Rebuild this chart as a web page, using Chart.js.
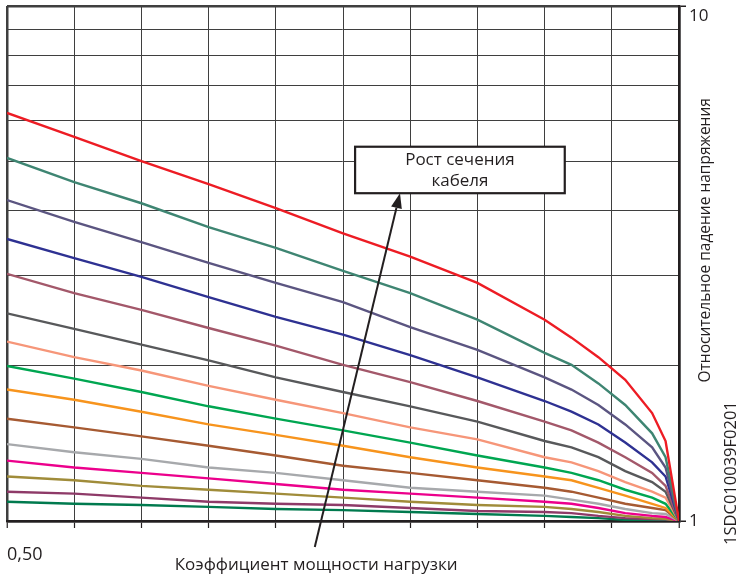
<!DOCTYPE html>
<html>
<head>
<meta charset="utf-8">
<script src="https://cdn.jsdelivr.net/npm/chart.js@4/dist/chart.umd.min.js"></script>
<style>
html,body{margin:0;padding:0;background:#fff;}
#wrap{width:737px;height:574px;position:relative;}
</style>
</head>
<body>
<div id="wrap"><canvas id="c" width="737" height="574"></canvas></div>
<script>
// Power factor (x) values
const powerFactor = [0.50, 0.55, 0.60, 0.65, 0.70, 0.75, 0.80, 0.85, 0.90, 0.92, 0.94, 0.96, 0.98, 0.99, 1.00];

// Relative voltage drop curves (log scale 1..10)
const sRed     = [6.20, 5.57, 5.00, 4.51, 4.05, 3.62, 3.26, 2.90, 2.46, 2.27, 2.08, 1.88, 1.62, 1.43, 1];
const sTeal    = [5.07, 4.55, 4.14, 3.72, 3.39, 3.06, 2.77, 2.46, 2.12, 2.01, 1.85, 1.68, 1.48, 1.33, 1];
const sPurple  = [4.20, 3.81, 3.48, 3.17, 2.90, 2.66, 2.38, 2.15, 1.90, 1.80, 1.68, 1.54, 1.39, 1.27, 1];
const sNavy    = [3.53, 3.24, 2.98, 2.72, 2.49, 2.30, 2.10, 1.90, 1.71, 1.63, 1.54, 1.42, 1.30, 1.22, 1];
const sMauve   = [3.02, 2.77, 2.57, 2.37, 2.19, 2.01, 1.86, 1.71, 1.56, 1.50, 1.42, 1.33, 1.24, 1.17, 1];
const sDkGray  = [2.53, 2.36, 2.20, 2.05, 1.90, 1.78, 1.67, 1.56, 1.43, 1.39, 1.33, 1.25, 1.19, 1.14, 1];
const sSalmon  = [2.23, 2.08, 1.96, 1.83, 1.72, 1.62, 1.52, 1.44, 1.33, 1.30, 1.25, 1.19, 1.14, 1.11, 1];
const sGreen   = [2.00, 1.89, 1.78, 1.67, 1.58, 1.50, 1.42, 1.34, 1.27, 1.24, 1.20, 1.15, 1.11, 1.08, 1];
const sOrange  = [1.80, 1.72, 1.63, 1.54, 1.47, 1.40, 1.33, 1.27, 1.22, 1.20, 1.16, 1.12, 1.08, 1.06, 1];
const sBrown   = [1.58, 1.52, 1.46, 1.40, 1.34, 1.28, 1.24, 1.20, 1.16, 1.14, 1.11, 1.08, 1.06, 1.05, 1];
const sLtGray  = [1.41, 1.36, 1.32, 1.27, 1.24, 1.20, 1.16, 1.14, 1.12, 1.10, 1.08, 1.055, 1.036, 1.032, 1];
const sMagenta = [1.31, 1.27, 1.24, 1.21, 1.18, 1.15, 1.13, 1.11, 1.09, 1.08, 1.06, 1.036, 1.023, 1.018, 1];
const sOlive   = [1.22, 1.20, 1.17, 1.15, 1.13, 1.11, 1.09, 1.074, 1.065, 1.055, 1.041, 1.023, 1.013, 1.01, 1];
const sPlum    = [1.14, 1.13, 1.11, 1.09, 1.08, 1.074, 1.06, 1.046, 1.041, 1.036, 1.023, 1.013, 1.009, 1.008, 1];
const sDkGreen = [1.09, 1.08, 1.074, 1.065, 1.055, 1.05, 1.041, 1.032, 1.023, 1.018, 1.013, 1.005, 1.004, 1.004, 1];

const seriesList = [sRed, sTeal, sPurple, sNavy, sMauve, sDkGray, sSalmon, sGreen, sOrange, sBrown, sLtGray, sMagenta, sOlive, sPlum, sDkGreen];
const seriesColors = ['#ED1C24', '#3E8572', '#5B5581', '#2E3192', '#A3586A', '#58595B', '#F69679', '#00A651', '#F7941D', '#A65A32', '#A7A9AC', '#EC008C', '#A08C3A', '#8E3A68', '#007A4E'];

// Text
const xTitle = 'Коэффициент мощности нагрузки';
const yTitle = 'Относительное падение напряжения';
const codeText = '1SDC010039F0201';
const boxLines = ['Рост сечения', 'кабеля'];
// Annotation anchors in data units
const boxCorners = [[0.759, 5.33], [0.915, 4.33]];
const arrowFrom = [0.729, 0.89];
const arrowTo = [0.7924, 4.33];

const FONT = '"Open Sans", "Noto Sans", sans-serif';
const DARK = '#231F20';

const datasets = seriesList.map((s, i) => ({
  data: powerFactor.map((x, j) => ({x: x, y: s[j]})),
  borderColor: seriesColors[i],
  borderWidth: 2.4,
  pointRadius: 0,
  tension: 0,
  fill: false
}));

const extras = {
  id: 'extras',
  afterDraw(chart) {
    const ctx = chart.ctx;
    const xs = chart.scales.x, ys = chart.scales.y;
    const ca = chart.chartArea;
    ctx.save();
    // box
    const bx1 = xs.getPixelForValue(boxCorners[0][0]);
    const by1 = ys.getPixelForValue(boxCorners[0][1]);
    const bx2 = xs.getPixelForValue(boxCorners[1][0]);
    const by2 = ys.getPixelForValue(boxCorners[1][1]);
    ctx.fillStyle = '#fff';
    ctx.fillRect(bx1, by1, bx2 - bx1, by2 - by1);
    ctx.strokeStyle = DARK;
    ctx.lineWidth = 2.2;
    ctx.strokeRect(bx1, by1, bx2 - bx1, by2 - by1);
    ctx.fillStyle = DARK;
    ctx.font = '17px ' + FONT;
    ctx.textAlign = 'center';
    ctx.textBaseline = 'middle';
    const bcx = (bx1 + bx2) / 2;
    const bh = by2 - by1;
    ctx.fillText(boxLines[0], bcx, by1 + bh * 0.29);
    ctx.fillText(boxLines[1], bcx, by1 + bh * 0.74);
    // arrow
    const ax1 = xs.getPixelForValue(arrowFrom[0]);
    const ay1 = ys.getPixelForValue(arrowFrom[1]);
    const ax2 = xs.getPixelForValue(arrowTo[0]);
    const ay2 = ys.getPixelForValue(arrowTo[1]);
    const ang = Math.atan2(ay2 - ay1, ax2 - ax1);
    const hl = 15, hw = 5.5;
    const bxp = ax2 - hl * Math.cos(ang), byp = ay2 - hl * Math.sin(ang);
    ctx.strokeStyle = DARK;
    ctx.lineWidth = 2;
    ctx.beginPath();
    ctx.moveTo(ax1, ay1);
    ctx.lineTo(bxp, byp);
    ctx.stroke();
    ctx.beginPath();
    ctx.moveTo(ax2, ay2);
    ctx.lineTo(bxp + hw * Math.sin(ang), byp - hw * Math.cos(ang));
    ctx.lineTo(bxp - hw * Math.sin(ang), byp + hw * Math.cos(ang));
    ctx.closePath();
    ctx.fillStyle = DARK;
    ctx.fill();
    // x title
    ctx.fillStyle = DARK;
    ctx.font = '17px ' + FONT;
    ctx.textAlign = 'center';
    ctx.textBaseline = 'middle';
    ctx.fillText(xTitle, ca.left + ca.width * 0.46, ca.bottom + 44);
    // y title (rotated)
    ctx.save();
    ctx.translate(ca.right + 27, ca.top + ca.height * 0.455);
    ctx.rotate(-Math.PI / 2);
    ctx.font = '15.5px ' + FONT;
    ctx.fillText(yTitle, 0, 0);
    ctx.restore();
    // code text
    ctx.save();
    ctx.translate(ca.right + 52, ca.top + ca.height * 0.907);
    ctx.rotate(-Math.PI / 2);
    ctx.font = '16.5px ' + FONT;
    ctx.fillText(codeText, 0, 0);
    ctx.restore();
    ctx.restore();
  }
};

new Chart(document.getElementById('c'), {
  type: 'line',
  data: {datasets: datasets},
  options: {
    responsive: false,
    animation: false,
    events: [],
    layout: {padding: {left: 7, top: 6, right: 0, bottom: 0}},
    plugins: {legend: {display: false}, tooltip: {enabled: false}, title: {display: false}},
    scales: {
      x: {
        type: 'linear',
        position: 'bottom',
        min: 0.5,
        max: 1.0,
        afterBuildTicks(scale) {
          scale.ticks = powerFactor.filter((v, i) => i <= 8).concat([0.95, 1.0]).map(v => ({value: v}));
        },
        afterFit(scale) { scale.height = 53; scale.paddingLeft = 0; scale.paddingRight = 0; },
        border: {display: true, color: DARK, width: 2.5},
        grid: {
          color: '#3f3f3f',
          lineWidth: (c) => (c.tick && (c.tick.value === 0.5 || c.tick.value === 1)) ? 2.5 : 1,
          drawTicks: true,
          tickLength: 7,
          tickColor: DARK,
          tickWidth: 1.2
        },
        ticks: {
          autoSkip: false,
          maxRotation: 0,
          align: 'start',
          padding: 16,
          color: DARK,
          font: {family: FONT, size: 18},
          callback: (v) => (Math.abs(v - 0.5) < 1e-9 ? '0,50' : '')
        }
      },
      y: {
        type: 'logarithmic',
        position: 'right',
        min: 1,
        max: 10,
        afterBuildTicks(scale) {
          scale.ticks = [1, 2, 3, 4, 5, 6, 7, 8, 9, 10].map(v => ({value: v}));
        },
        afterFit(scale) { scale.width = 58; scale.paddingTop = 0; scale.paddingBottom = 0; },
        border: {display: true, color: DARK, width: 2.5},
        grid: {
          color: '#3f3f3f',
          lineWidth: (c) => (c.tick && (c.tick.value === 10 || c.tick.value === 1)) ? 2.5 : 1,
          drawTicks: true,
          tickLength: 7,
          tickColor: (c) => (c.tick && (c.tick.value === 1 || c.tick.value === 10)) ? DARK : 'rgba(0,0,0,0)',
          tickWidth: 1.5
        },
        ticks: {
          autoSkip: false,
          padding: 3,
          color: DARK,
          font: {family: FONT, size: 17},
          callback: (v) => (v === 1 ? '1' : (v === 10 ? ['', '10'] : ''))
        }
      }
    }
  },
  plugins: [extras]
});
</script>
</body>
</html>
